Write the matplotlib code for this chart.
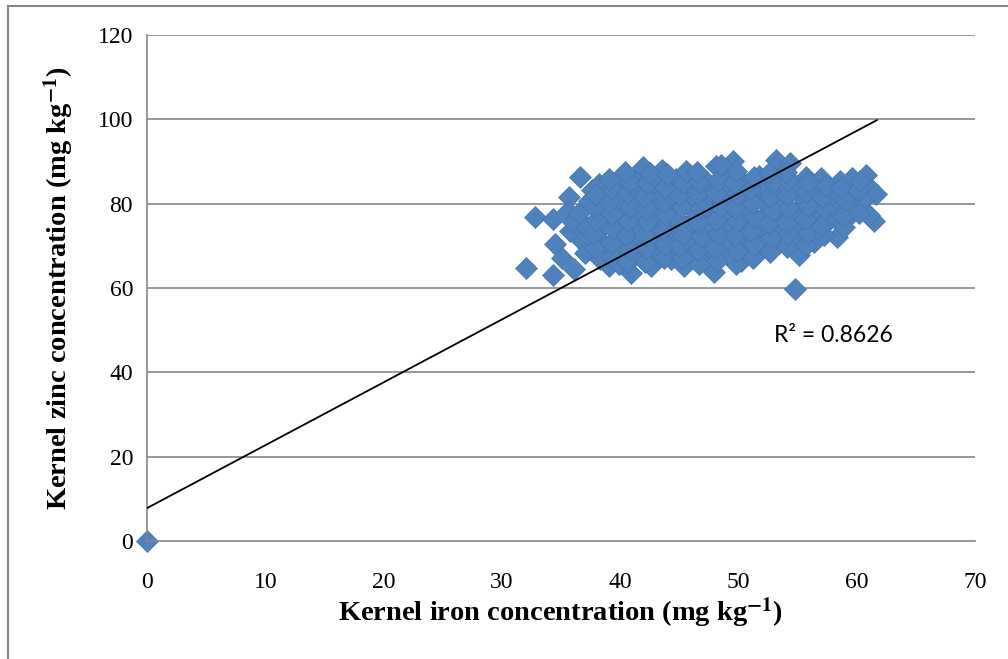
import matplotlib
matplotlib.use("Agg")
import matplotlib.pyplot as plt
from matplotlib.lines import Line2D

# Kernel iron (x) and zinc (y) concentrations
iron = [
    0.0,
    32.0, 32.8, 34.3, 34.3, 34.5, 35.1, 36.1, 35.7, 36.6, 39.1, 54.8,
    35.8, 35.6, 36.0,
    36.8, 37.2, 36.5, 37.4, 37.0, 37.6,
    38.3, 38.6, 38.1, 38.9, 38.4, 38.7, 38.2,
    39.6, 40.1, 39.8, 40.3, 39.7, 40.2, 40.0, 39.9,
    41.2, 41.6, 41.0, 41.8, 41.3, 41.7, 41.4, 41.9, 40.9,
    42.6, 43.1, 42.8, 43.3, 42.7, 43.2, 42.9, 43.5,
    44.3, 44.0, 44.6, 44.2, 44.8, 44.1, 44.7,
    45.4, 45.9, 46.2, 45.7, 46.3, 45.8, 46.1, 45.9,
    47.1, 47.5, 47.0, 47.8, 47.3, 47.7, 47.2, 47.9, 48.1,
    48.6, 49.1, 48.8, 49.3, 48.7, 49.2, 48.9, 49.5,
    50.2, 50.6, 50.1, 50.8, 50.4, 50.9, 50.3,
    51.6, 52.1, 51.8, 52.4, 51.9, 52.3, 51.7,
    53.0, 53.4, 53.1, 53.8, 53.3, 53.6, 53.2, 54.4,
    54.7, 55.1, 54.9, 55.4, 54.8, 55.1, 55.7,
    56.2, 56.6, 56.3, 56.9, 57.0, 56.4,
    57.6, 58.2, 57.8, 58.6, 58.3, 57.3,
    59.4, 59.8, 59.1, 59.6,
    60.8, 61.2, 61.6, 61.5, 61.0, 60.5,
    37.9, 37.7, 38.0, 37.8, 38.0,
    39.3, 39.2, 39.4, 39.3, 39.1, 39.3, 39.1,
    40.6, 40.8, 40.5, 40.7, 40.8, 40.6, 40.8, 40.4,
    42.1, 42.2, 42.0, 42.3, 42.2, 42.0, 42.3, 42.5,
    43.7, 43.8, 43.6, 43.9, 43.7, 43.8, 44.0,
    45.2, 45.0, 45.3, 45.1, 45.2, 45.0, 45.3, 45.6,
    46.7, 46.6, 46.8, 46.6, 46.8, 46.5, 46.7, 46.5,
    48.2, 48.0, 48.3, 48.1, 48.4, 48.1, 48.3, 48.5,
    49.8, 49.9, 49.7, 49.9, 49.7, 49.9, 49.6, 49.8,
    51.2, 51.3, 51.1, 51.3, 51.2, 51.0, 51.3,
    52.7, 52.8, 52.6, 52.9, 52.7, 52.9, 52.6,
    54.1, 54.2, 54.0, 54.3, 54.1, 54.2, 54.0,
    55.7, 55.9, 55.6, 55.9, 55.7, 55.9,
    57.2, 57.0, 57.3, 57.1, 57.4,
    58.9, 58.8, 59.0, 58.7,
    60.2, 60.1, 60.3,
]
zinc = [
    0.0,
    64.8, 76.9, 76.4, 63.1, 70.5, 67.2, 64.5, 81.6, 86.3, 65.3, 59.8,
    73.5, 78.2, 75.6,
    71.2, 74.5, 77.8, 80.6, 68.3, 83.2,
    66.8, 70.4, 73.6, 76.9, 79.8, 82.5, 84.6,
    68.9, 72.1, 75.3, 78.4, 81.2, 84.0, 86.2, 65.8,
    67.5, 70.8, 74.0, 77.1, 80.3, 83.4, 86.4, 88.6, 63.6,
    65.2, 69.0, 72.4, 75.6, 78.9, 82.0, 85.1, 87.9,
    66.9, 70.3, 73.5, 76.8, 80.0, 83.1, 85.8,
    65.3, 68.4, 71.6, 74.9, 78.1, 81.4, 84.4, 86.9,
    66.6, 69.8, 73.1, 76.3, 79.5, 82.7, 85.6, 63.8, 88.9,
    67.9, 71.2, 74.5, 77.7, 80.9, 84.1, 86.8, 90.1,
    66.3, 69.6, 72.8, 76.0, 79.2, 82.4, 85.3,
    68.2, 71.4, 74.7, 77.9, 81.1, 84.2, 86.5,
    70.0, 73.3, 76.5, 79.7, 82.8, 85.6, 90.3, 89.6,
    71.8, 75.1, 78.3, 81.5, 84.4, 67.9, 86.3,
    73.6, 76.9, 80.1, 83.4, 86.2, 71.0,
    75.8, 78.9, 82.0, 85.3, 72.2, 76.1,
    77.4, 79.8, 83.7, 86.0,
    86.8, 83.5, 82.4, 75.8, 77.4, 80.8,
    69.5, 72.9, 76.2, 79.1, 82.0,
    67.4, 70.7, 73.9, 77.5, 80.4, 83.4, 85.8,
    66.1, 69.3, 72.6, 76.0, 79.2, 82.5, 85.2, 87.4,
    66.2, 69.5, 72.6, 75.6, 78.8, 81.9, 84.8, 87.3,
    67.0, 70.5, 73.9, 77.3, 80.5, 83.6, 87.0,
    67.2, 70.0, 72.6, 76.0, 79.3, 82.1, 85.0, 87.8,
    65.8, 68.9, 72.4, 75.6, 79.0, 82.3, 85.2, 87.4,
    66.4, 69.6, 72.9, 76.1, 79.3, 82.5, 85.6, 89.2,
    65.8, 68.8, 72.4, 75.8, 79.0, 82.2, 85.0, 87.8,
    67.2, 70.2, 73.6, 76.8, 80.1, 83.5, 86.3,
    68.5, 72.1, 75.4, 78.6, 81.8, 85.1, 87.2,
    69.7, 72.8, 75.7, 78.9, 82.1, 85.3, 87.5,
    70.2, 73.1, 76.3, 79.4, 82.8, 85.2,
    72.6, 74.6, 78.8, 81.5, 84.3,
    74.4, 77.1, 80.9, 83.6,
    77.8, 83.2, 85.3,
]

# linear trend line as drawn in the chart
trend_x = [0, 61.7]
trend_y = [7.8, 99.8]
r2_text = "R² = 0.8626"

x_ticks = [0, 10, 20, 30, 40, 50, 60, 70]
y_ticks = [0, 20, 40, 60, 80, 100, 120]

plt.rcParams['mathtext.fontset'] = 'stix'

fig = plt.figure(figsize=(10.08, 6.59), dpi=100)
ax = fig.add_axes([147/1008, 118/659, 828/1008, 506/659])

for y in y_ticks[1:]:
    ax.axhline(y, color="#868686", lw=1.2, zorder=0)

ax.scatter(iron, zinc, marker="D", s=125, color="#4F81BD",
           edgecolors="#4574AE", linewidths=0.5, zorder=2, clip_on=False)
ax.plot(trend_x, trend_y, color="black", lw=1.3, zorder=3)

ax.text(58.0, 48.8, r2_text, fontsize=16.5, family="Lato",
        ha="center", va="center")

ax.set_xlim(0, 70)
ax.set_ylim(0, 120)
ax.set_xticks(x_ticks)
ax.set_yticks(y_ticks)
ax.tick_params(length=0, labelsize=17)
ax.tick_params(axis="x", pad=22)
ax.tick_params(axis="y", pad=10)
for lab in ax.get_xticklabels() + ax.get_yticklabels():
    lab.set_family("Liberation Serif")

for side in ["top", "right"]:
    ax.spines[side].set_visible(False)
for side in ["left", "bottom"]:
    ax.spines[side].set_color("#868686")
    ax.spines[side].set_linewidth(1.2)

ax.set_xlabel(r"Kernel iron concentration (mg kg$^{\mathbf{-1}}$)",
              family="Liberation Serif", fontweight="bold", fontsize=20.5,
              labelpad=2)
ax.set_ylabel(r"Kernel zinc concentration (mg kg$^{\mathbf{-1}}$)",
              family="Liberation Serif", fontweight="bold", fontsize=20.5,
              labelpad=16)

# outer chart border (only left and top edges are inside the picture)
fig.add_artist(Line2D([8/1008, 8/1008], [0, 1 - 6/659], color="#868686", lw=1.5))
fig.add_artist(Line2D([8/1008, 1], [1 - 6/659, 1 - 6/659], color="#868686", lw=1.5))

fig.savefig("out.png", dpi=100)
